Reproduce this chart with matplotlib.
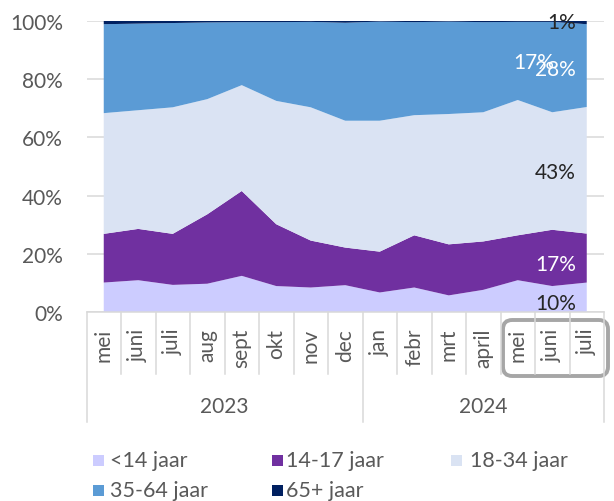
import matplotlib
matplotlib.use("Agg")
import matplotlib.pyplot as plt
from matplotlib.patches import Rectangle, FancyBboxPatch
from matplotlib.transforms import blended_transform_factory
from matplotlib.lines import Line2D
import numpy as np

plt.rcParams['font.family'] = ['Lato', 'DejaVu Sans']

# Monthly share of each age group (%)
months = ["mei", "juni", "juli", "aug", "sept", "okt", "nov", "dec",
          "jan", "febr", "mrt", "april", "mei", "juni", "juli"]
years = ["2023", "2024"]
months_per_year = [8, 7]

series_names = ["<14 jaar", "14-17 jaar", "18-34 jaar", "35-64 jaar", "65+ jaar"]
under14 = [10.2, 11.0, 9.4, 9.8, 12.5, 9.0, 8.5, 9.3, 6.8, 8.5, 5.8, 7.7, 11.0, 9.0, 10.2]
age14_17 = [16.7, 17.6, 17.5, 23.8, 29.1, 21.2, 16.1, 12.9, 14.0, 17.9, 17.5, 16.6, 15.4, 19.3, 16.8]
age18_34 = [41.4, 40.7, 43.4, 39.5, 36.3, 42.3, 45.7, 43.5, 44.9, 41.2, 44.7, 44.3, 46.4, 40.3, 43.4]
age35_64 = [30.5, 29.7, 28.9, 26.3, 21.6, 27.0, 29.3, 33.6, 34.0, 31.9, 31.7, 30.9, 26.8, 31.0, 28.4]
age65 = [1.2, 1.0, 0.8, 0.6, 0.5, 0.5, 0.4, 0.7, 0.3, 0.5, 0.3, 0.5, 0.4, 0.4, 1.2]

colors = ["#CCCCFF", "#7030A0", "#DAE3F3", "#5B9BD5", "#002060"]
label_colors = ["#262626", "white", "#262626", "white", "#262626"]
text_grey = "#595959"
fs = 15

W, H = 614, 502
fig = plt.figure(figsize=(W / 100, H / 100), dpi=100)


def fx(px):
    return px / W


def fy(py):
    return 1 - py / H


left, right, top, bottom = 86.5, 604, 21.7, 313.3
ax = fig.add_axes([fx(left), fy(bottom), fx(right) - fx(left), fy(top) - fy(bottom)])

data = np.array([under14, age14_17, age18_34, age35_64, age65], dtype=float)
shares = data / data.sum(axis=0) * 100
x = np.arange(len(months))
ax.stackplot(x, shares, colors=colors, linewidth=0, edgecolor="none", zorder=2)

ax.set_xlim(-0.5, len(months) - 0.5)
ax.set_ylim(0, 100)
ax.set_yticks(np.arange(0, 101, 20))
ax.set_yticklabels([f"{v}%" for v in range(0, 101, 20)])
ax.tick_params(axis="y", length=0, pad=17, labelsize=fs, labelcolor=text_grey)
ax.set_xticks([])
ax.grid(axis="y", color="#D9D9D9", linewidth=1.1, zorder=0)
ax.set_axisbelow(True)
for s in ["top", "right", "left"]:
    ax.spines[s].set_visible(False)
ax.spines["bottom"].set_color("#D9D9D9")
ax.spines["bottom"].set_linewidth(1.1)
ax.spines["bottom"].set_zorder(3)

# Value labels for the last month
last = len(months) - 1
cum = np.cumsum(shares[:, last])
mids = cum - shares[:, last] / 2
label_x = last - 0.32
y_shift = [-2.0, -2.1, -0.6, -1.2, 0.0]
for i in range(len(series_names)):
    ax.text(label_x, mids[i] + y_shift[i], f"{round(data[i, last])}%",
            ha="right", va="center", fontsize=fs, color=label_colors[i], zorder=5)
# second 14-17 label sitting in the 35-64 band
ax.text(last - 0.95, 86.0, f"{round(data[1, last])}%", ha="right", va="center",
        fontsize=fs, color="white", zorder=5)

# Two-level category axis
trans = blended_transform_factory(ax.transData, fig.transFigure)
sep_color = "#D9D9D9"
year_bounds = np.cumsum([0] + months_per_year)
for k in range(len(months) + 1):
    xb = k - 0.5
    y_end = 423 if k in year_bounds else 375
    fig.add_artist(Line2D([xb, xb], [fy(bottom), fy(y_end)], transform=trans,
                          color=sep_color, linewidth=1.1))
for i, m in enumerate(months):
    fig.text(i, fy(329), m, transform=trans, rotation=90, ha="center", va="top",
             fontsize=fs, color=text_grey)
for j, yr in enumerate(years):
    xc = (year_bounds[j] + year_bounds[j + 1]) / 2 - 0.5
    fig.text(xc, fy(407), yr, transform=trans, ha="center", va="center",
             fontsize=fs, color=text_grey)

# Highlight box around the most recent months
hl = FancyBboxPatch((fx(503), fy(377)), fx(608) - fx(503), fy(321) - fy(377),
                    boxstyle="round,pad=0,rounding_size=0.015",
                    transform=fig.transFigure, facecolor="none",
                    edgecolor="#A6A6A6", linewidth=2.8, mutation_aspect=W / H)
fig.add_artist(hl)

# Legend
marker_x = [93, 272, 451]
text_x = [110, 286, 470]
row_y = [461, 491]
sq = 11
for idx, (name, c) in enumerate(zip(series_names, colors)):
    col, row = idx % 3, idx // 3
    py = row_y[row]
    fig.add_artist(Rectangle((fx(marker_x[col]), fy(py + sq / 2)), sq / W, sq / H,
                             transform=fig.transFigure, facecolor=c, edgecolor="none"))
    fig.text(fx(text_x[col]), fy(py), name, ha="left", va="center",
             fontsize=15.5, color=text_grey)

fig.savefig("out.png", dpi=100)
